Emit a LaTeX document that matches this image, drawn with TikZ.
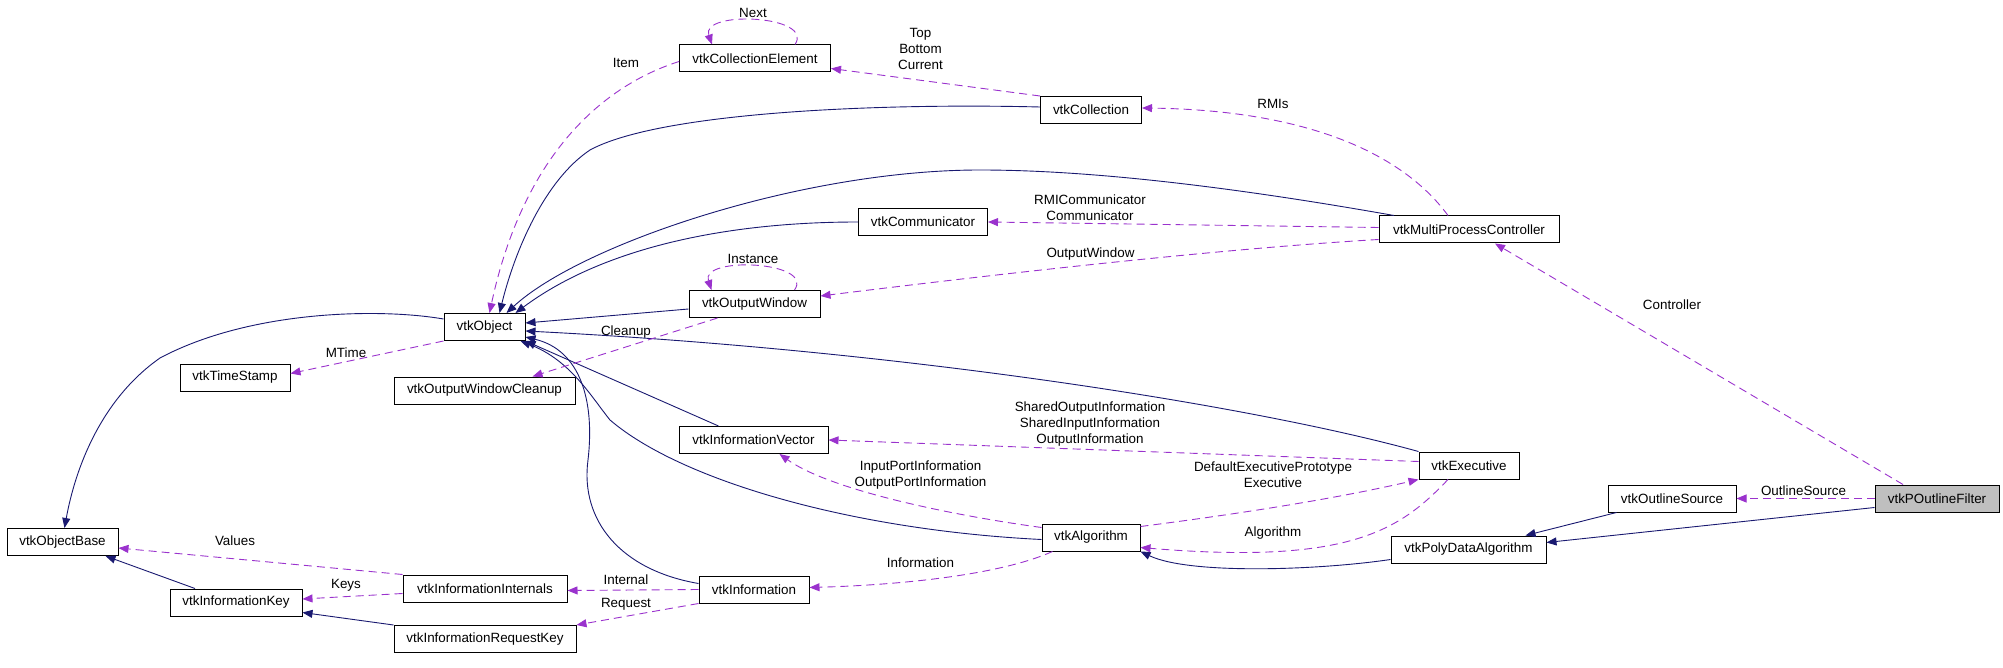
\documentclass[tikz,border=0pt]{standalone}
\usepackage{fontspec}
\setmainfont{Liberation Sans}
\usepackage{xcolor}
\definecolor{InheritNavy}{RGB}{25,25,112}
\definecolor{UsagePurple}{RGB}{154,50,205}
\definecolor{FocusGray}{RGB}{191,191,191}
\usepackage{tikz}
\usetikzlibrary{
    arrows.meta
}

\begin{document}
\begin{tikzpicture}[
    x=1pt,y=-1pt,
    font=\fontsize{13.4}{16}\selectfont,
    classbox/.style={
        draw=black,
        line width=1pt,
        fill=white,
        minimum height=27pt,
        inner xsep=0pt,
        inner ysep=0pt
    },
    inherit/.style={
        InheritNavy,
        line width=0.9pt,
        -{Triangle[length=10pt,width=8pt]}
    },
    uses/.style={
        UsagePurple,
        line width=0.9pt,
        dash pattern=on 8pt off 5pt,
        -{Triangle[length=10pt,width=8pt]}
    },
    edgelabel/.style={
        inner sep=0pt,
        align=center
    }
]
%
    \useasboundingbox (0,0) rectangle (2003,668);
%
    % classes, one column per rank
%
    \node[classbox, minimum width=111pt] (base) at (62.5,542) {vtkObjectBase};
    \node[classbox, minimum width=110pt] (stamp) at (235,377.5) {vtkTimeStamp};
    \node[classbox, minimum width=132pt] (key) at (236,602.5) {vtkInformationKey};
    \node[classbox, minimum width=81pt] (obj) at (484.5,327) {vtkObject};
    \node[classbox, minimum width=181pt] (owclean) at (484.5,390.5) {vtkOutputWindowCleanup};
    \node[classbox, minimum width=164pt] (internals) at (485,588.5) {vtkInformationInternals};
    \node[classbox, minimum width=182pt] (reqkey) at (485,639) {vtkInformationRequestKey};
    \node[classbox, minimum width=151pt] (colelem) at (755,58.5) {vtkCollectionElement};
    \node[classbox, minimum width=131pt] (outwin) at (754.5,304) {vtkOutputWindow};
    \node[classbox, minimum width=149pt] (infovec) at (753.5,440) {vtkInformationVector};
    \node[classbox, minimum width=110pt] (info) at (754,589.5) {vtkInformation};
    \node[classbox, minimum width=129pt] (comm) at (923,222) {vtkCommunicator};
    \node[classbox, minimum width=101pt] (coll) at (1091,110) {vtkCollection};
    \node[classbox, minimum width=98pt] (algo) at (1091,537.5) {vtkAlgorithm};
    \node[classbox, minimum width=180pt] (mpc) at (1469,229.5) {vtkMultiProcessController};
    \node[classbox, minimum width=100pt] (exec) at (1469,465.5) {vtkExecutive};
    \node[classbox, minimum width=155pt] (pda) at (1468.5,549.5) {vtkPolyDataAlgorithm};
    \node[classbox, minimum width=128pt] (osrc) at (1672,498.5) {vtkOutlineSource};
    \node[classbox, minimum width=124pt, fill=FocusGray] (pof) at (1937,498.5) {vtkPOutlineFilter};
%
    % member names on the usage edges
%
    \node[edgelabel] (lnext) at (753,13) {Next};
    \node[edgelabel] (litem) at (626,63) {Item};
    \node[edgelabel] (ltop) at (920.5,49) {Top\\Bottom\\Current};
    \node[edgelabel] (lrmis) at (1273,104) {RMIs};
    \node[edgelabel] (lcomm) at (1090,208) {RMICommunicator\\Communicator};
    \node[edgelabel] (loutwin) at (1090.5,254) {OutputWindow};
    \node[edgelabel] (linstance) at (753,259) {Instance};
    \node[edgelabel] (lcontroller) at (1672,305) {Controller};
    \node[edgelabel] (lcleanup) at (626,332) {Cleanup};
    \node[edgelabel] (lmtime) at (346,353) {MTime};
    \node[edgelabel] (lshared) at (1090,424) {SharedOutputInformation\\SharedInputInformation\\OutputInformation};
    \node[edgelabel] (lports) at (920.5,475) {InputPortInformation\\OutputPortInformation};
    \node[edgelabel] (lexecutive) at (1273,475) {DefaultExecutivePrototype\\Executive};
    \node[edgelabel] (lalgorithm) at (1273,533) {Algorithm};
    \node[edgelabel] (linformation) at (920.5,563) {Information};
    \node[edgelabel] (loutline) at (1803.5,491) {OutlineSource};
    \node[edgelabel] (lvalues) at (235,541) {Values};
    \node[edgelabel] (lkeys) at (346,585) {Keys};
    \node[edgelabel] (linternal) at (626,580) {Internal};
    \node[edgelabel] (lrequest) at (626,604) {Request};
%
    % inheritance
%
    \draw[inherit] ([yshift=8]obj.west)
        .. controls (380,308) and (250,310) .. (160,358)
        .. controls (100,400) and (75,470) .. ([xshift=2]base.north);
    \draw[inherit] ([xshift=-41]key.north) -- ([xshift=43]base.south);
    \draw[inherit] (reqkey.north west) -- ([yshift=-10]key.east);
    \draw[inherit] ([yshift=-5]outwin.west) -- ([yshift=4]obj.east);
    \draw[inherit] ([yshift=3]coll.west)
        .. controls (880,103) and (660,112) .. (590,150)
        .. controls (545,180) and (515,250) .. ([xshift=15]obj.north);
    \draw[inherit] ([xshift=-75]mpc.north)
        .. controls (1250,190) and (1100,170) .. (980,170)
        .. controls (800,170) and (580,245) .. ([xshift=22]obj.north);
    \draw[inherit] (comm.west)
        .. controls (720,222) and (600,250) .. ([xshift=31]obj.north);
    \draw[inherit] (exec.north west)
        .. controls (1250,405) and (900,350) .. ([yshift=-4]obj.east);
    \draw[inherit] ([xshift=-35]infovec.north) -- (obj.south east);
    \draw[inherit] ([yshift=-2]algo.west)
        .. controls (850,530) and (680,480) .. (610,420)
        .. controls (590,395) and (570,360) .. ([xshift=-5]obj.south east);
    \draw[inherit] ([yshift=6]info.west)
        .. controls (620,570) and (580,520) .. (588,460)
        .. controls (595,400) and (580,350) .. ([yshift=4]obj.south east);
    \draw[inherit] ([yshift=-10]pda.west)
        .. controls (1320,570) and (1190,575) .. (algo.south east);
    \draw[inherit] ([xshift=9]osrc.south west) -- ([xshift=57]pda.north);
    \draw[inherit] ([yshift=-9]pof.west) -- ([yshift=7]pda.east);
%
    % usage
%
    \draw[uses] (internals.north west) -- ([yshift=-6]base.east);
    \draw[uses] ([yshift=-5]internals.west) -- ([yshift=3.5]key.east);
    \draw[uses] (obj.south west) -- ([yshift=4]stamp.east);
    \draw[uses] ([xshift=-37]outwin.south) -- ([xshift=48]owclean.north);
    \draw[uses] ([yshift=-3]colelem.west)
        .. controls (590,90) and (520,170) .. ([xshift=5]obj.north);
    \draw[uses] ([xshift=40]colelem.north)
        .. controls (815,15) and (700,10) .. ([xshift=-43]colelem.north);
    \draw[uses] ([xshift=40]outwin.north)
        .. controls (815,261) and (700,256) .. ([xshift=-43]outwin.north);
    \draw[uses] (coll.north west) -- ([yshift=-10]colelem.east);
    \draw[uses] ([xshift=-21]mpc.north)
        .. controls (1400,150) and (1300,110) .. ([yshift=2]coll.east);
    \draw[uses] ([yshift=2]mpc.west) -- (comm.east);
    \draw[uses] ([yshift=-10]mpc.west)
        .. controls (1200,250) and (950,280) .. ([yshift=8]outwin.east);
    \draw[uses] ([xshift=-34]pof.north) -- ([xshift=26]mpc.south);
    \draw[uses] (pof.west) -- (osrc.east);
    \draw[uses] ([xshift=-21]exec.south)
        .. controls (1400,530) and (1350,565) .. ([yshift=-10]algo.east);
    \draw[uses] ([yshift=-3]algo.north east)
        .. controls (1230,515) and (1330,500) .. (exec.south west);
    \draw[uses] ([yshift=4]exec.west) -- (infovec.east);
    \draw[uses] ([yshift=-4]algo.north west)
        .. controls (950,515) and (830,490) .. ([xshift=26]infovec.south);
    \draw[uses] ([xshift=11]algo.south west)
        .. controls (1000,575) and (900,585) .. ([yshift=2]info.east);
    \draw[uses] (info.west) -- ([yshift=-2]internals.east);
    \draw[uses] (info.south west) -- (reqkey.north east);
%
\end{tikzpicture}
\end{document}
